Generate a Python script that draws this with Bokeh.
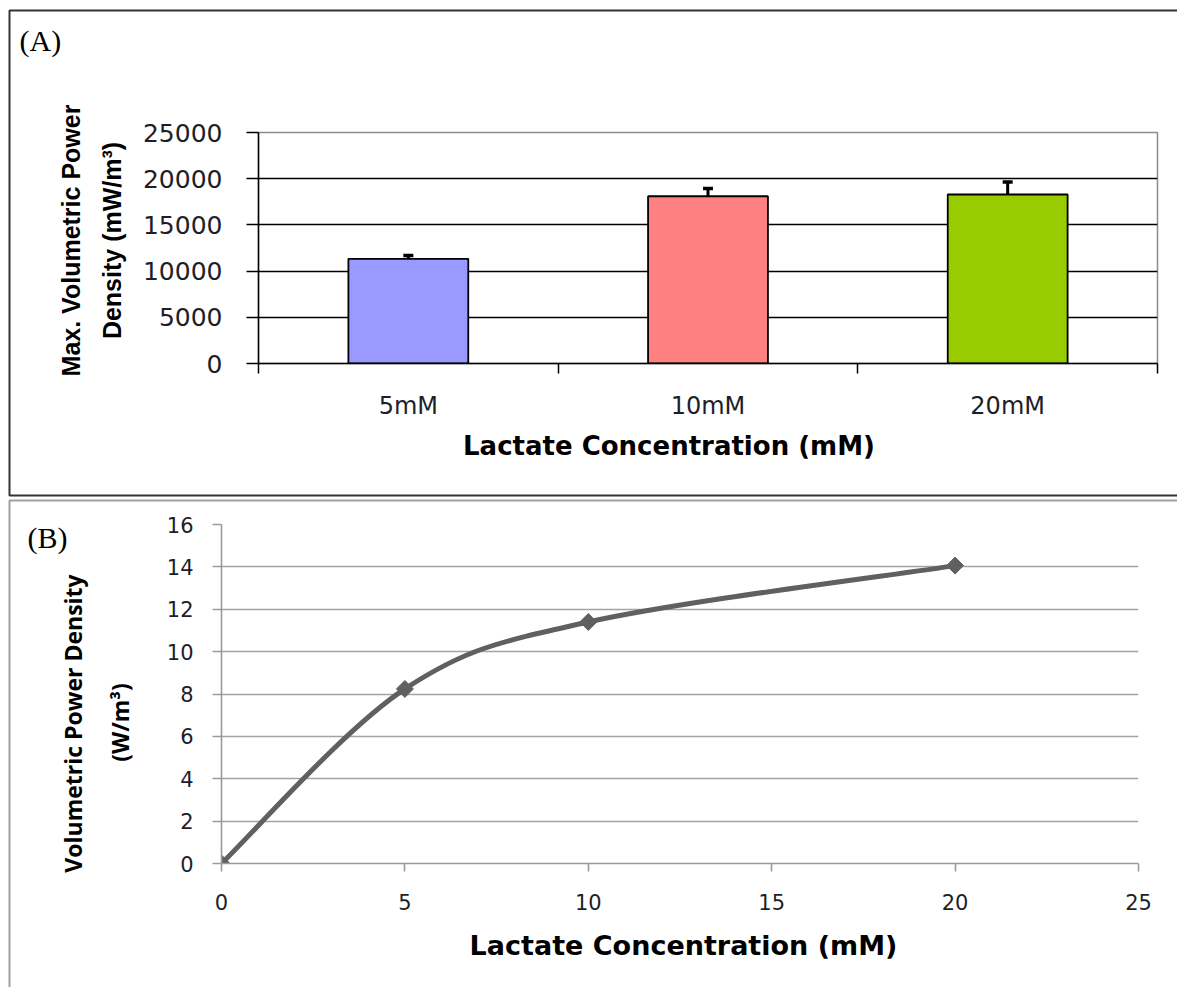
import numpy as np
from jinja2 import Template
from bokeh.plotting import figure
from bokeh.models import (Range1d, LinearAxis, FixedTicker, Whisker, TeeHead,
                          ColumnDataSource, Label, BoxAnnotation, NumeralTickFormatter)
from bokeh.embed import file_html
from bokeh.resources import INLINE

# ---------------- data ----------------
cats_a = ["5mM", "10mM", "20mM"]
power_a = [11330, 18100, 18290]
err_a = [350, 850, 1350]
bar_colors = ["#9999FF", "#FF8080", "#99CC00"]
y_ticks_a = [0, 5000, 10000, 15000, 20000, 25000]

conc_b = [0, 5, 10, 20]
power_b = [0, 8.24, 11.4, 14.06]
x_ticks_b = [0, 5, 10, 15, 20, 25]
y_ticks_b = [0, 2, 4, 6, 8, 10, 12, 14, 16]

TXT = "#1e1e2a"
W = 1177
H_A, H_B = 497, 490

# category slots: one unit per category, bar centred in its slot
pos_a = [i + 0.5 for i in range(len(cats_a))]
edges_a = list(range(len(cats_a) + 1))

# ---------------- panel A ----------------
pa = figure(width=W, height=H_A, x_range=Range1d(0, len(cats_a)),
            y_range=Range1d(0, 25000), x_axis_location=None, y_axis_location=None,
            output_backend="svg", toolbar_location=None,
            min_border_left=258, min_border_right=20, min_border_top=132, min_border_bottom=134)
pa.background_fill_color = "white"
pa.border_fill_color = "white"
pa.outline_line_color = "#8c8c8c"
pa.outline_line_width = 1.5
pa.xgrid.visible = False
pa.ygrid.ticker = FixedTicker(ticks=y_ticks_a[1:-1])
pa.ygrid.grid_line_color = "black"
pa.ygrid.grid_line_width = 1.5

ya = LinearAxis(ticker=FixedTicker(ticks=y_ticks_a), formatter=NumeralTickFormatter(format="0"),
                major_tick_out=12, major_tick_in=0, minor_tick_line_color=None,
                axis_line_color="black", axis_line_width=1.5,
                major_tick_line_color="black", major_tick_line_width=1.5,
                major_label_standoff=24, major_label_text_font="DejaVu Sans",
                major_label_text_font_size="25px", major_label_text_color=TXT)
pa.add_layout(ya, "left")

xa = LinearAxis(ticker=FixedTicker(ticks=pos_a, minor_ticks=edges_a),
                major_label_overrides={p: c for p, c in zip(pos_a, cats_a)},
                axis_line_color="black", axis_line_width=1.5,
                major_tick_line_color=None, major_tick_out=10, major_tick_in=0,
                minor_tick_line_color="black", minor_tick_line_width=1.5,
                minor_tick_out=10, minor_tick_in=0,
                major_label_standoff=18, major_label_text_font="DejaVu Sans",
                major_label_text_font_size="24px", major_label_text_color=TXT)
pa.add_layout(xa, "below")

pa.vbar(x=pos_a, top=power_a, width=0.4, fill_color=bar_colors,
        line_color="black", line_width=1.8)

src_err = ColumnDataSource(dict(x=pos_a, lower=power_a,
                                upper=[v + e for v, e in zip(power_a, err_a)]))
pa.add_layout(Whisker(source=src_err, base="x", lower="lower", upper="upper",
                      dimension="height", lower_head=None,
                      upper_head=TeeHead(size=10, line_width=3.5, line_color="black"),
                      line_width=3, line_color="black", level="glyph"))

# ---------------- panel B ----------------
pb = figure(width=W, height=H_B, x_range=Range1d(0, 25), y_range=Range1d(0, 16),
            output_backend="svg", toolbar_location=None,
            min_border_left=221, min_border_right=39, min_border_top=27, min_border_bottom=124)
pb.background_fill_color = "white"
pb.border_fill_color = "white"
pb.outline_line_color = None
pb.xgrid.visible = False
pb.ygrid.ticker = FixedTicker(ticks=y_ticks_b)
pb.ygrid.grid_line_color = "#a3a3a3"
pb.ygrid.grid_line_width = 1.6

for ax, ticks in ((pb.xaxis[0], x_ticks_b), (pb.yaxis[0], y_ticks_b)):
    ax.ticker = FixedTicker(ticks=ticks)
    ax.major_tick_in = 0
    ax.minor_tick_line_color = None
    ax.axis_line_color = "#9a9a9a"
    ax.axis_line_width = 1.6
    ax.major_tick_line_color = "#9a9a9a"
    ax.major_tick_line_width = 1.6
    ax.major_label_text_font = "DejaVu Sans"
    ax.major_label_text_font_size = "21px"
    ax.major_label_text_color = TXT
pb.xaxis[0].major_tick_out = 8
pb.xaxis[0].major_label_standoff = 22
pb.yaxis[0].major_tick_out = 9
pb.yaxis[0].major_label_standoff = 19

# Excel-style smoothed line: cubic Bezier segments built from the data points
xb = np.asarray(conc_b, dtype=float)
yb = np.asarray(power_b, dtype=float)
xe = np.concatenate([[xb[0]], xb, [xb[-1]]])
ye = np.concatenate([[yb[0]], yb, [yb[-1]]])
n = len(xb)
seg = dict(x0=xb[:-1], y0=yb[:-1], x1=xb[1:], y1=yb[1:],
           cx0=xb[:-1] + (xb[1:] - xe[0:n - 1]) / 6.0,
           cy0=yb[:-1] + (yb[1:] - ye[0:n - 1]) / 6.0,
           cx1=xb[1:] - (xe[3:n + 2] - xb[:-1]) / 6.0,
           cy1=yb[1:] - (ye[3:n + 2] - yb[:-1]) / 6.0)
pb.bezier(source=ColumnDataSource(seg), x0="x0", y0="y0", x1="x1", y1="y1",
          cx0="cx0", cy0="cy0", cx1="cx1", cy1="cy1",
          line_color="#606060", line_width=5)
pb.scatter(conc_b, power_b, marker="square", angle=np.pi / 4, size=12,
           fill_color="#606060", line_color="#606060")

# ---------------- transparent overlay for free texts and panel frames ----------------
HT = H_A + H_B
ov = figure(width=W, height=HT, x_range=Range1d(0, W), y_range=Range1d(0, HT),
            x_axis_location=None, y_axis_location=None, output_backend="svg",
            toolbar_location=None, min_border_left=0, min_border_right=0,
            min_border_top=0, min_border_bottom=0)
ov.background_fill_color = None
ov.border_fill_color = None
ov.outline_line_color = None
ov.xgrid.visible = False
ov.ygrid.visible = False


def fy(y_from_top):
    return HT - y_from_top


def add_text(x, y, text, font, size, bold=False, angle=0.0, align="center"):
    ov.add_layout(Label(x=x, y=fy(y), text=text, angle=angle,
                        text_font=font, text_font_size=size,
                        text_font_style="bold" if bold else "normal",
                        text_align=align, text_baseline="middle", text_color="black"))


add_text(19, 40, "(A)", "Liberation Serif", "30px", align="left")
add_text(70, 240, "Max. Volumetric Power", "Liberation Sans", "25px", True, np.pi / 2)
add_text(111, 240, "Density (mW/m³)", "Liberation Sans", "25px", True, np.pi / 2)
add_text(673, 445, "Lactate Concentration  (mM)", "DejaVu Sans", "26px", True)

add_text(27, 537, "(B)", "Liberation Serif", "30px", align="left")
add_text(72, 723, "Volumetric Power Density", "Open Sans", "23px", True, np.pi / 2)
add_text(119, 722, "(W/m³)", "Open Sans", "23px", True, np.pi / 2)
add_text(683, 945, "Lactate Concentration (mM)", "DejaVu Sans", "27px", True)

ov.add_layout(BoxAnnotation(left=9, right=W + 20, top=fy(10), bottom=fy(495),
                            fill_color=None, line_color="#333333", line_width=2,
                            line_alpha=1.0))
ov.add_layout(BoxAnnotation(left=9, right=W + 20, top=fy(500), bottom=fy(HT + 20),
                            fill_color=None, line_color="#a0a0a0", line_width=2,
                            line_alpha=1.0))

tpl = Template("""{% extends base %}
{% from macros import embed %}
{% block postamble %}<style>html, body { margin: 0; padding: 0; overflow: hidden; }</style>{% endblock %}
{% block contents %}
<div style="position:absolute; left:0px; top:0px;">{{ embed(roots[0]) }}</div>
<div style="position:absolute; left:0px; top:""" + str(H_A) + """px;">{{ embed(roots[1]) }}</div>
<div style="position:absolute; left:0px; top:0px;">{{ embed(roots[2]) }}</div>
{% endblock %}""")

open("out.html", "w").write(file_html([pa, pb, ov], INLINE, template=tpl))
